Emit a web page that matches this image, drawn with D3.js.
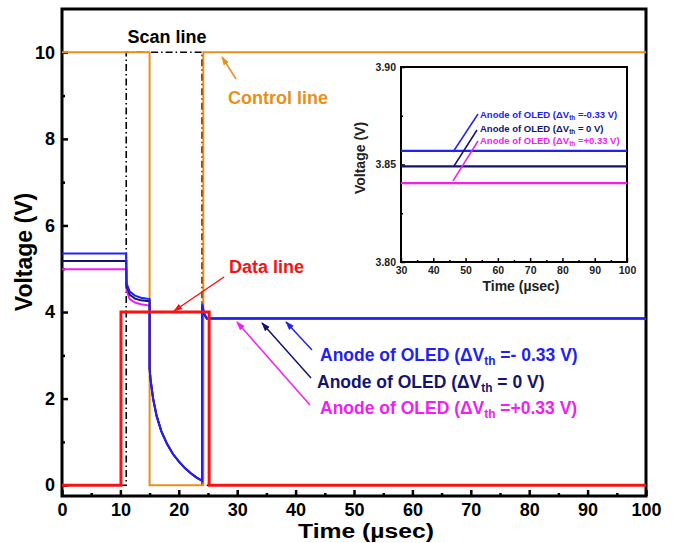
<!DOCTYPE html>
<html>
<head>
<meta charset="utf-8">
<script src="https://cdn.jsdelivr.net/npm/d3@7"></script>
<style>
body { margin: 0; background: #fff; }
text { font-family: "Liberation Sans", Arial, sans-serif; font-weight: bold; }
</style>
</head>
<body>
<script>
// main panel
var xTicks = [0, 10, 20, 30, 40, 50, 60, 70, 80, 90, 100];
var xMinor = [5, 15, 25, 35, 45, 55, 65, 75, 85, 95];
var yTicks = [0, 2, 4, 6, 8, 10];
var yMinor = [1, 3, 5, 7, 9];

var scanTime = [0, 11, 11, 24, 24, 100];
var scanVolt = [0, 0, 10, 10, 0, 0];
var controlTime = [0, 15, 15, 24.2, 24.2, 100];
var controlVolt = [10, 10, 0, 0, 10, 10];
var dataTime = [0, 10.1, 10.1, 25.2, 25.2, 100];
var dataVolt = [0, 0, 4, 4, 0, 0];

var anodeTime    = [0, 11, 11.05, 11.6, 12.5, 13.5, 15, 15, 15.15, 15.6, 16.2, 17, 18, 19, 20, 21, 22, 23, 24, 24, 24.3, 24.8, 100];
var anodeBlue    = [5.35, 5.35, 4.67, 4.47, 4.38, 4.33, 4.30, 2.7, 2.45, 2.0, 1.6, 1.25, 0.95, 0.72, 0.55, 0.40, 0.28, 0.18, 0.10, 4.20, 3.98, 3.857, 3.857];
var anodeNavy    = [5.18, 5.18, 4.60, 4.40, 4.31, 4.27, 4.25, 2.7, 2.45, 2.0, 1.6, 1.25, 0.95, 0.72, 0.55, 0.40, 0.28, 0.18, 0.10, 4.15, 3.96, 3.850, 3.850];
var anodeMagenta = [4.99, 4.99, 4.50, 4.30, 4.22, 4.18, 4.15, 2.7, 2.45, 2.0, 1.6, 1.25, 0.95, 0.72, 0.55, 0.40, 0.28, 0.18, 0.10, 4.10, 3.94, 3.842, 3.842];

// inset panel
var insetXTicks = [30, 40, 50, 60, 70, 80, 90, 100];
var insetXMinor = [35, 45, 55, 65, 75, 85, 95];
var insetYTicks = [3.80, 3.85, 3.90];
var insetYMinor = [3.825, 3.875];
var insetTime = [30, 100];
var insetBlue = [3.857, 3.857];
var insetNavy = [3.849, 3.849];
var insetMagenta = [3.8405, 3.8405];

var orange = '#e8901c', red = '#f41414', blue = '#2222f0', navy = '#14146e', magenta = '#f020f0';

var svg = d3.select('body').append('svg')
    .attr('width', 675)
    .attr('height', 543);

var defs = svg.append('defs');
[['aOrange', orange], ['aRed', red], ['aBlue', blue], ['aNavy', navy], ['aMagenta', magenta]].forEach(function (m) {
    defs.append('marker')
        .attr('id', m[0])
        .attr('viewBox', '0 0 10 10')
        .attr('refX', 9).attr('refY', 5)
        .attr('markerWidth', 6).attr('markerHeight', 6)
        .attr('orient', 'auto')
        .append('path')
        .attr('d', 'M0,1.5 L10,5 L0,8.5 Z')
        .attr('fill', m[1]);
});

var x = d3.scaleLinear().domain([0, 100]).range([62, 646]);
var y = d3.scaleLinear().domain([-0.25, 11]).range([496, 9]);

function series(ts, vs, xs, ys) {
    return d3.line()
        .x(function (d, i) { return xs(ts[i]); })
        .y(function (d) { return ys(d); })(vs);
}

function drawAxes(g, xs, ys, major, minor, ymajor, yminor, fmt, opt) {
    var bx = g.append('g')
        .attr('transform', 'translate(0,' + ys.range()[0] + ')')
        .call(d3.axisBottom(xs).tickValues(major).tickSize(-opt.tick).tickSizeOuter(0).tickPadding(opt.pad));
    bx.selectAll('text').style('font-size', opt.font + 'px').attr('fill', opt.color);
    g.append('g')
        .attr('transform', 'translate(0,' + ys.range()[0] + ')')
        .call(d3.axisBottom(xs).tickValues(minor).tickSize(-opt.tick / 2).tickSizeOuter(0).tickFormat(''));
    var ly = g.append('g')
        .attr('transform', 'translate(' + xs.range()[0] + ',0)')
        .call(d3.axisLeft(ys).tickValues(ymajor).tickSize(-opt.tick).tickSizeOuter(0).tickPadding(opt.ypad).tickFormat(fmt));
    ly.selectAll('text').style('font-size', opt.font + 'px').attr('fill', opt.color);
    g.append('g')
        .attr('transform', 'translate(' + xs.range()[0] + ',0)')
        .call(d3.axisLeft(ys).tickValues(yminor).tickSize(-opt.tick / 2).tickSizeOuter(0).tickFormat(''));
    g.selectAll('.domain').remove();
    g.selectAll('.tick line').attr('stroke', '#000').attr('stroke-width', opt.tw);
    g.append('rect')
        .attr('x', xs.range()[0]).attr('y', ys.range()[1])
        .attr('width', xs.range()[1] - xs.range()[0])
        .attr('height', ys.range()[0] - ys.range()[1])
        .attr('fill', 'none').attr('stroke', '#000').attr('stroke-width', opt.frame);
}

var main = svg.append('g');
drawAxes(main, x, y, xTicks, xMinor, yTicks, yMinor, d3.format('d'),
    {tick: 6, pad: 7, ypad: 7, font: 18, color: '#000', tw: 2.5, frame: 3});

// series
main.append('path').attr('d', series(scanTime, scanVolt, x, y))
    .attr('fill', 'none').attr('stroke', '#000').attr('stroke-width', 1.6)
    .attr('stroke-dasharray', '7,3,1.5,3');
main.append('path').attr('d', series(controlTime, controlVolt, x, y))
    .attr('fill', 'none').attr('stroke', orange).attr('stroke-width', 2);
[[anodeMagenta, magenta], [anodeNavy, navy], [anodeBlue, blue]].forEach(function (s) {
    main.append('path').attr('d', series(anodeTime, s[0], x, y))
        .attr('fill', 'none').attr('stroke', s[1]).attr('stroke-width', 2);
});
main.append('path').attr('d', series(dataTime, dataVolt, x, y))
    .attr('fill', 'none').attr('stroke', red).attr('stroke-width', 3);

// axis titles
svg.append('text').attr('x', 366).attr('y', 538).attr('text-anchor', 'middle')
    .attr('textLength', 136).attr('lengthAdjust', 'spacingAndGlyphs')
    .style('font-size', '20px').text('Time (\u00b5sec)');
svg.append('text').attr('transform', 'translate(32,252) rotate(-90)').attr('text-anchor', 'middle')
    .style('font-size', '23px').text('Voltage (V)');

// annotations
function arrow(x1, y1, x2, y2, color, mk) {
    svg.append('line').attr('x1', x1).attr('y1', y1).attr('x2', x2).attr('y2', y2)
        .attr('stroke', color).attr('stroke-width', 1.5)
        .attr('marker-end', mk ? 'url(#' + mk + ')' : null);
}
svg.append('text').attr('x', 167).attr('y', 43).attr('text-anchor', 'middle')
    .style('font-size', '18px').attr('fill', '#000').text('Scan line');
svg.append('text').attr('x', 228).attr('y', 104)
    .style('font-size', '18px').attr('fill', orange).text('Control line');
arrow(236, 79, 222, 57, orange, 'aOrange');
svg.append('text').attr('x', 229).attr('y', 273)
    .style('font-size', '18px').attr('fill', red).text('Data line');
arrow(224, 277, 174, 311, red, 'aRed');

function anodeLabel(g, x0, y0, size, color, value) {
    var t = g.append('text').attr('x', x0).attr('y', y0).attr('fill', color).style('font-size', size + 'px');
    t.append('tspan').text('Anode of OLED (\u0394V');
    t.append('tspan').attr('dy', size * 0.25).style('font-size', (size * 0.68) + 'px').text('th');
    t.append('tspan').attr('dy', -size * 0.25).text(value);
}
anodeLabel(svg, 320, 361, 17.5, blue, ' =- 0.33 V)');
anodeLabel(svg, 317, 388, 17.5, navy, ' =  0 V)');
anodeLabel(svg, 320, 414, 17.5, magenta, ' =+0.33 V)');
arrow(312, 350, 286, 322, blue, 'aBlue');
arrow(311, 378, 262, 323, navy, 'aNavy');
arrow(310, 405, 237, 322, magenta, 'aMagenta');

// inset
var ix = d3.scaleLinear().domain([30, 100]).range([401, 627]);
var iy = d3.scaleLinear().domain([3.80, 3.90]).range([262, 67]);
var inset = svg.append('g');
drawAxes(inset, ix, iy, insetXTicks, insetXMinor, insetYTicks, insetYMinor, d3.format('.2f'),
    {tick: 4, pad: 5, ypad: 5, font: 10.5, color: '#222', tw: 1.5, frame: 2});
[[insetMagenta, magenta], [insetNavy, navy], [insetBlue, blue]].forEach(function (s) {
    inset.append('path').attr('d', series(insetTime, s[0], ix, iy))
        .attr('fill', 'none').attr('stroke', s[1]).attr('stroke-width', 2.2);
});
svg.append('text').attr('x', 521).attr('y', 291).attr('text-anchor', 'middle')
    .style('font-size', '14px').attr('fill', '#222').text('Time (\u00b5sec)');
svg.append('text').attr('transform', 'translate(365,158) rotate(-90)').attr('text-anchor', 'middle')
    .style('font-size', '14px').attr('fill', '#222').text('Voltage (V)');
anodeLabel(svg, 480, 118, 9.5, blue, ' =-0.33  V)');
anodeLabel(svg, 480, 132, 9.5, navy, ' = 0  V)');
anodeLabel(svg, 480, 144, 9.5, magenta, ' =+0.33  V)');
arrow(453, 152, 478, 114, blue);
arrow(454, 166, 477, 130, navy);
arrow(453, 181, 478, 141, magenta);
</script>
</body>
</html>
